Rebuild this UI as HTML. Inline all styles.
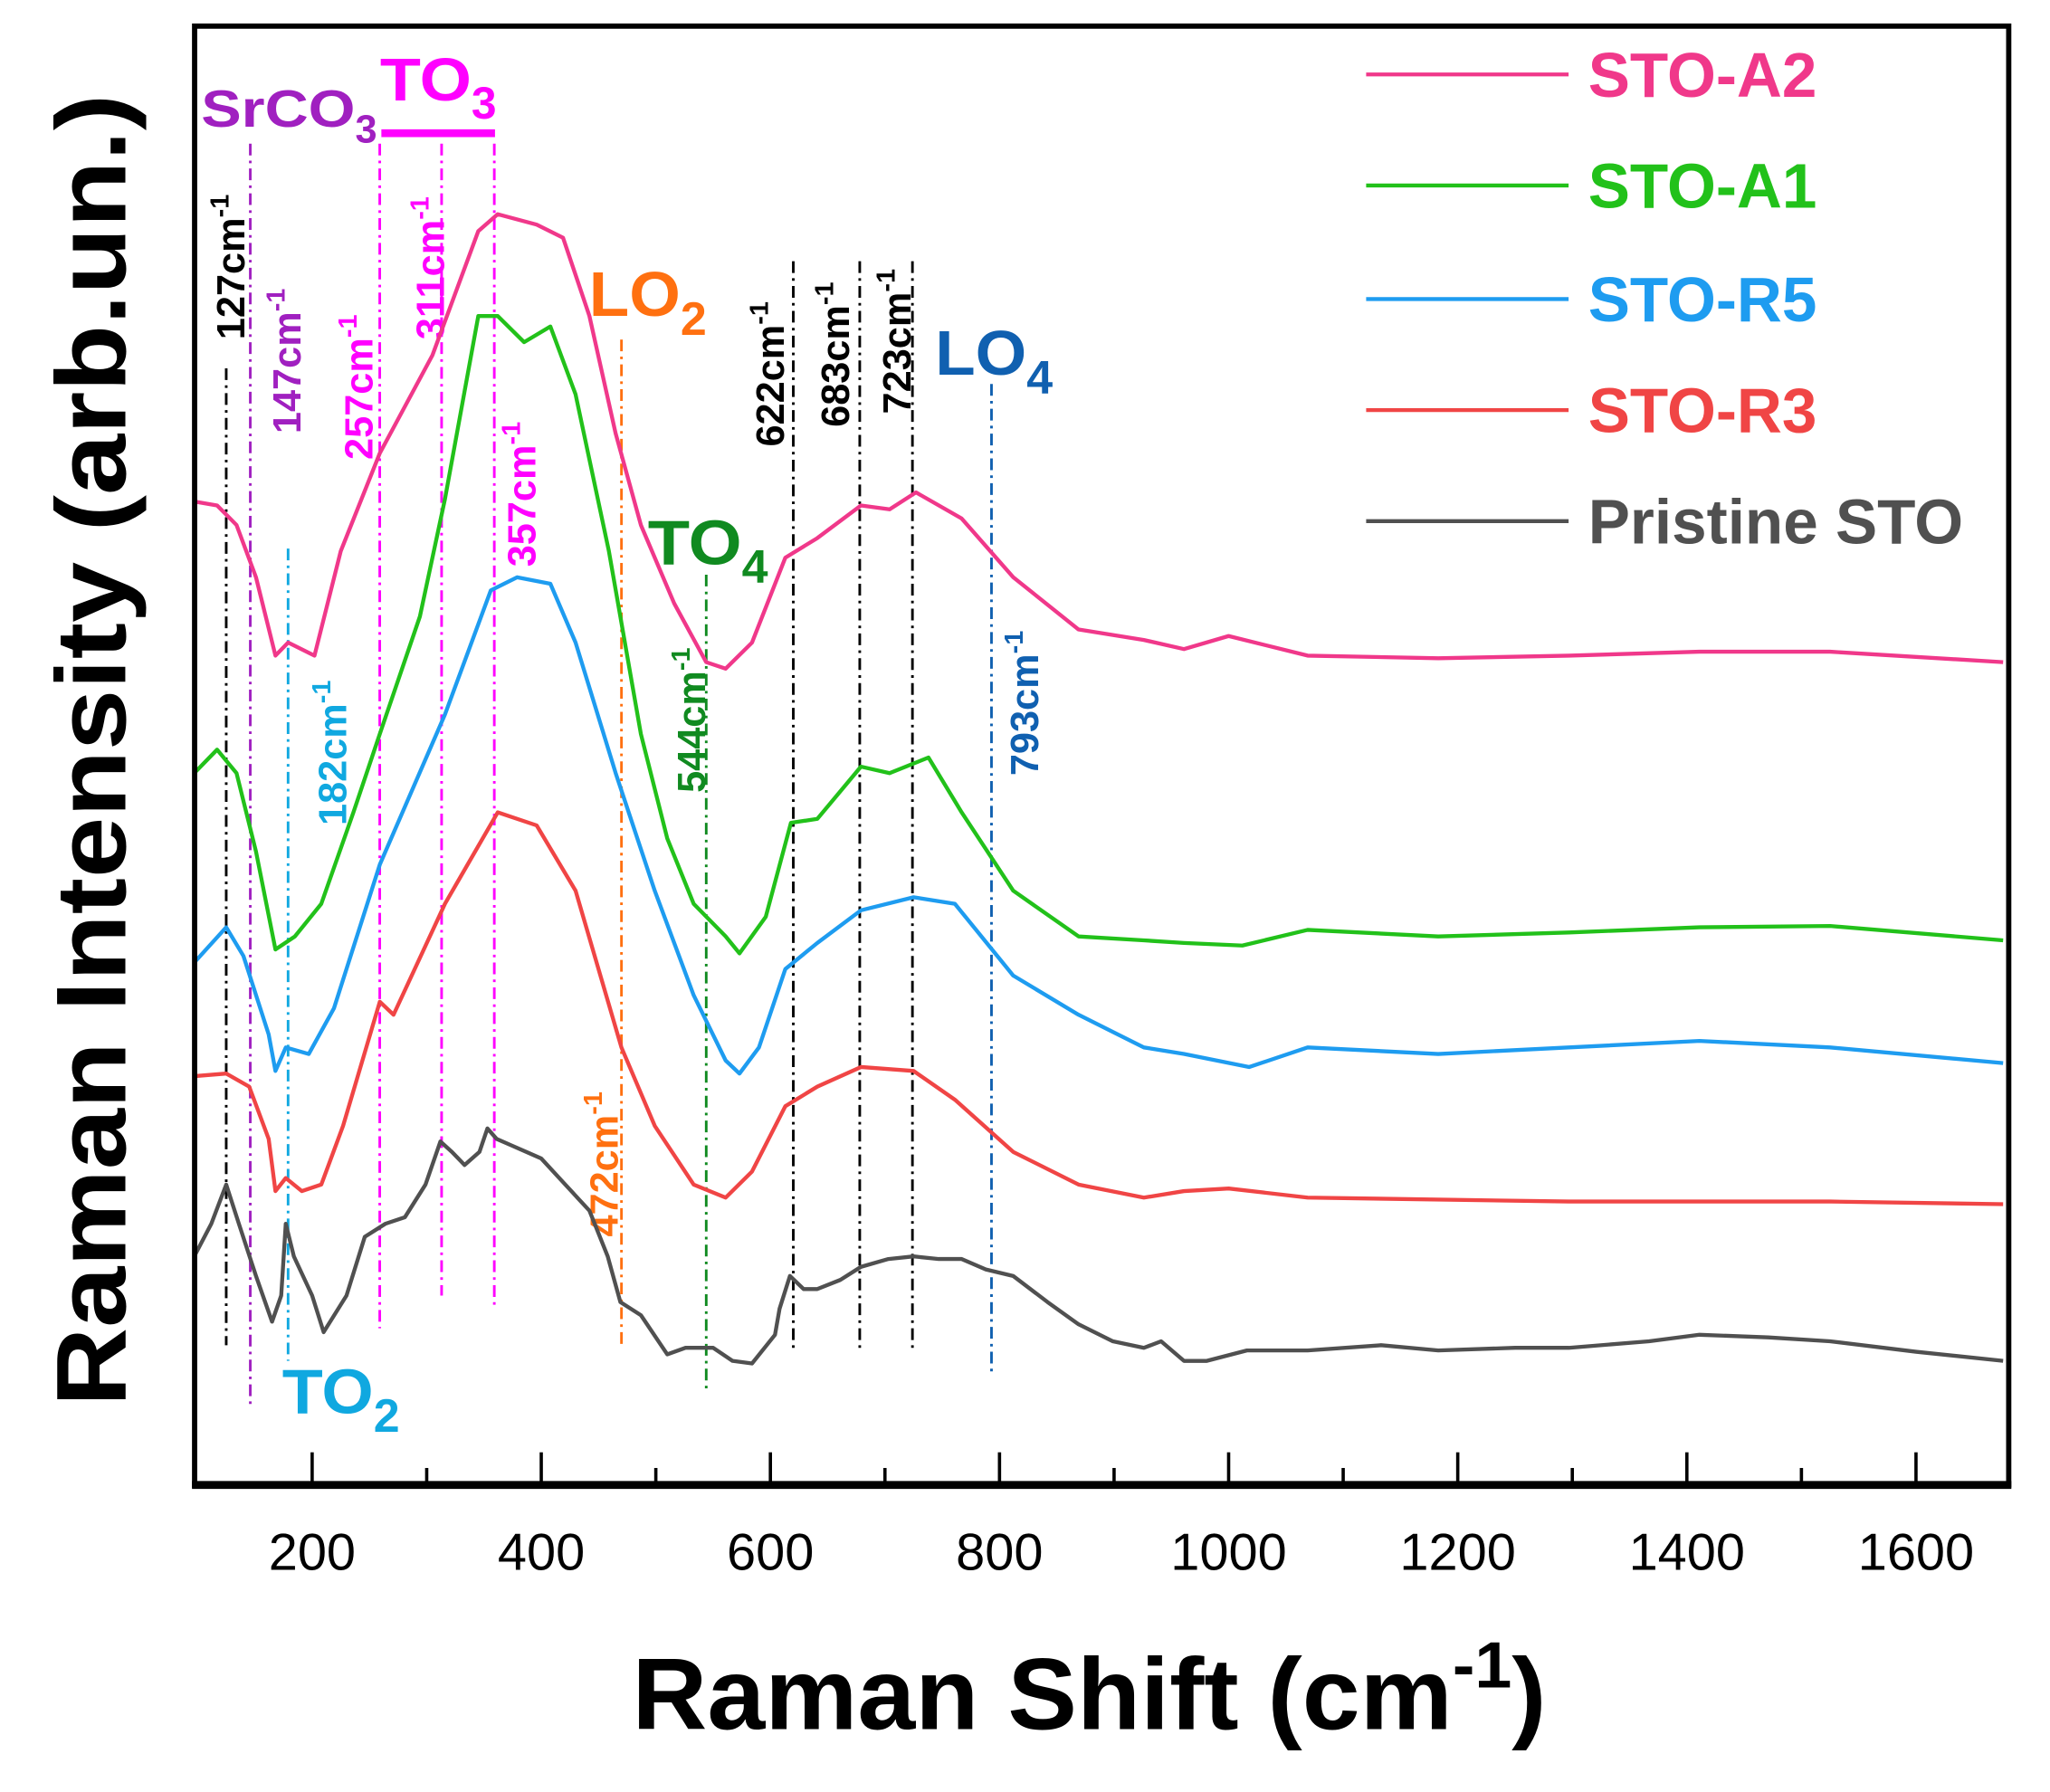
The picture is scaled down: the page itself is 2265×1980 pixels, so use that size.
<!DOCTYPE html>
<html><head><meta charset="utf-8"><style>
html,body{margin:0;padding:0;background:#fff}
svg{display:block}
text{font-family:"Liberation Sans",sans-serif}
</style></head><body>
<svg id="chart" width="2265" height="1980" viewBox="-1 -2 1569.6 1372.1" xmlns="http://www.w3.org/2000/svg">
<rect x="-10" y="-10" width="1600" height="1400" fill="#fff"/>
<g id="annos"></g>
<g id="series"></g>
<g id="labels"></g>
<rect x="148" y="18" width="1389" height="1117" fill="none" stroke="#000" stroke-width="4"/>
<line x1="146" x2="1539" y1="1135" y2="1135" stroke="#000" stroke-width="6"/>
<g id="ticks"></g>
<text x="483" y="1322" font-size="78" font-weight="bold" textLength="700" lengthAdjust="spacingAndGlyphs">Raman Shift (cm<tspan dy="-32" font-size="50">-1</tspan><tspan dy="32">)</tspan></text>
<text transform="translate(95,1075) rotate(-90)" x="0" y="0" font-size="76" font-weight="bold" textLength="1005" lengthAdjust="spacingAndGlyphs">Raman Intensity (arb.un.)</text>
<g id="legend"></g>
</svg>
<script>
const NS="http://www.w3.org/2000/svg";
const xTicks=[200,400,600,800,1000,1200,1400,1600];
const xMinor=[300,500,700,900,1100,1300,1500];
const seriesNames=["STO-A2","STO-A1","STO-R5","STO-R3","Pristine STO"];
const seriesColors=["#f0388a","#22c11a","#1e9cf0","#f04545","#505050"];
const pristineX=[97,112,125,136,151,165,173,177,184,200,210,230,246,264,281,299,312,322,333,346,353,361,374,400,421,442,458,469,487,510,526,550,567,584,604,608,617,629,641,661,679,703,725,747,767,788,812,842,869,899,926,941,961,981,1016,1069,1133,1183,1250,1297,1367,1411,1471,1525,1600,1676];
const pristineY=[175,200,230,200,160,125,145,200,175,145,117,145,190,200,205,230,263,255,245,255,273,265,260,250,230,210,175,140,130,100,105,105,95,93,115,135,160,150,150,157,167,173,175,173,173,165,160,140,123,110,105,110,95,95,103,103,107,103,105,105,110,115,113,110,102,95];
const r3X=[97,125,145,162,168,177,191,208,227,259,271,316,362,396,430,470,499,533,561,584,613,641,679,725,761,812,869,926,961,1000,1069,1297,1525,1676];
const r3Y=[313,315,305,265,225,235,225,230,275,370,360,445,515,505,455,335,275,230,220,240,290,305,320,317,295,255,230,220,225,227,220,217,217,215];
const r5X=[97,125,140,162,168,177,197,219,259,316,356,379,408,430,465,499,533,561,573,590,613,641,679,725,761,812,869,926,961,1018,1069,1183,1297,1411,1525,1676];
const r5Y=[400,427,405,345,317,335,330,365,475,590,685,695,690,645,545,455,375,325,315,335,395,415,440,450,445,390,360,335,330,320,335,330,335,340,335,323];
const a1X=[97,117,134,151,168,185,208,236,259,294,316,345,362,385,408,430,459,487,510,533,561,573,596,618,641,679,704,738,767,812,869,926,961,1012,1069,1183,1297,1411,1525,1676];
const a1Y=[545,563,545,485,410,420,445,515,575,665,755,895,895,875,887,835,715,575,495,445,420,407,435,507,510,550,545,557,515,455,420,417,415,413,425,420,423,427,428,417];
const a2X=[97,117,134,151,168,179,202,225,259,305,345,362,396,419,442,465,487,516,544,561,584,613,641,679,704,727,767,812,869,926,961,1000,1069,1183,1297,1411,1525,1676];
const a2Y=[753,750,735,695,635,645,635,715,790,865,960,973,965,955,895,805,735,675,630,625,645,710,725,750,747,760,740,695,655,647,640,650,635,633,635,638,638,630];
const annoPos=[125,146,179,259,313,359,470,544,620,678,724,793];
const annoText=["127","147","182","257","311","357","472","544","622","683","723","793"];
const annoColors=["#000","#a020c0","#10a8e0","#ff00ff","#ff00ff","#ff00ff","#ff7010","#108a20","#000","#000","#000","#1060b0"];
const annoTop=[280,108,418,108,108,108,258,438,198,198,198,292];
const annoBot=[1028,1075,1040,1015,990,1000,1030,1065,1030,1030,1030,1048];
const annoLabX=[186,229,264,284,339,409,472,539,599,649,696,794];
const annoLabY=[258,330,630,350,258,432,945,605,340,325,315,592];

function xs(v){return 238+(v-200)*0.87714;}
function ys(v){return 1135-v;}
function mk(tag,attrs,parent){const e=document.createElementNS(NS,tag);for(const k in attrs)e.setAttribute(k,attrs[k]);parent.appendChild(e);return e;}

const ticksG=document.getElementById('ticks');
xTicks.forEach(t=>{
  const l=mk('line',{x1:xs(t),x2:xs(t),y1:1135,y2:1110,stroke:'#000','stroke-width':2.5},ticksG);
  
  
  const tx=mk('text',{x:xs(t),y:1200,'text-anchor':'middle','font-size':40},ticksG);
  tx.textContent=t;
  
  
});
xMinor.forEach(t=>{
  const l=mk('line',{x1:xs(t),x2:xs(t),y1:1135,y2:1122,stroke:'#000','stroke-width':2.5},ticksG);
  
  
});

const annosG=document.getElementById('annos');
annoPos.forEach((p,i)=>{
  const l=mk('line',{x1:xs(p),x2:xs(p),y1:annoTop[i],y2:annoBot[i],stroke:annoColors[i],'stroke-width':2,'stroke-dasharray':'9,4,2,4'},annosG);
  
  
  const t=mk('text',{transform:`translate(${annoLabX[i]},${annoLabY[i]}) rotate(-90)`,'font-size':30,'font-weight':'bold',fill:annoColors[i]},annosG);
  t.innerHTML=annoText[i]+'cm<tspan dy="-12" font-size="20">-1</tspan>';
  
  
});

const seriesG=document.getElementById('series');
const allX=[a2X,a1X,r5X,r3X,pristineX];
const allY=[a2Y,a1Y,r5Y,r3Y,pristineY];
for(let s=4;s>=0;s--){
  const d=allX[s].map((v,i)=>(i?'L':'M')+xs(v).toFixed(1)+','+ys(allY[s][i]).toFixed(1)).join(' ');
  const p=mk('path',{d:d,fill:'none',stroke:seriesColors[s],'stroke-width':3,'stroke-linejoin':'round'},seriesG);
  
  
}

const legG=document.getElementById('legend');
const legY=[55,140,227,312,397];
seriesNames.forEach((n,i)=>{
  const l=mk('line',{x1:1045,x2:1200,y1:legY[i],y2:legY[i],stroke:seriesColors[i],'stroke-width':3},legG);
  
  
  const t=mk('text',{x:1215,y:legY[i]+17,'font-size':48,'font-weight':'bold',fill:seriesColors[i]},legG);
  t.textContent=n;
  
  
});

const lab=document.getElementById('labels');
const big=[
 ["SrCO","3","#a020c0",153,95,40,118],
 ["TO","3","#ff00ff",290,75,46,70],
 ["LO","2","#ff7010",450,240,48,70],
 ["TO","4","#108a20",495,430,48,72],
 ["LO","4","#1060b0",715,285,48,70],
 ["TO","2","#10a8e0",215,1080,48,70]
];
big.forEach(b=>{
  const t=document.createElementNS(NS,'text');
  t.setAttribute('x',b[3]);t.setAttribute('y',b[4]);t.setAttribute('font-size',b[5]);
  t.setAttribute('font-weight','bold');t.setAttribute('fill',b[2]);
  t.innerHTML=`<tspan textLength="${b[6]}" lengthAdjust="spacingAndGlyphs">${b[0]}</tspan><tspan dy="${b[5]*0.3}" font-size="${b[5]*0.75}">${b[1]}</tspan>`;
  
  
  lab.appendChild(t);
});
const bar=document.createElementNS(NS,'line');
bar.setAttribute('x1',291);bar.setAttribute('x2',378);bar.setAttribute('y1',100);bar.setAttribute('y2',100);
bar.setAttribute('stroke','#ff00ff');bar.setAttribute('stroke-width',6);


lab.appendChild(bar);
</script>
</body></html>
